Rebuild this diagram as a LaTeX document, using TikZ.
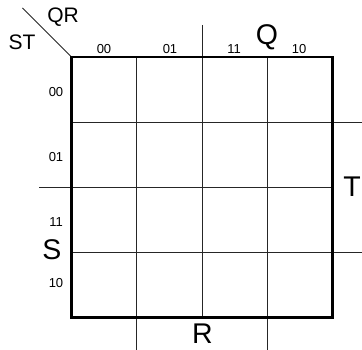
\documentclass[tikz,border=0pt]{standalone}
\usepackage{fontspec}
\setmainfont{Liberation Sans}
\begin{document}
\begin{tikzpicture}[x=1pt,y=-1pt,
  thin line/.style={line width=0.8pt,black!85},
  thick box/.style={line width=2.3pt,black},
  small lbl/.style={inner sep=0pt,font=\fontsize{13}{13}\selectfont},
  mid lbl/.style={inner sep=0pt,font=\fontsize{21}{21}\selectfont},
  big lbl/.style={inner sep=0pt,font=\fontsize{28.5}{28.5}\selectfont}]
\useasboundingbox (0,0) rectangle (362,350);
% grid coordinates
\coordinate (tl) at (71.5,57);
\coordinate (br) at (332.5,317.5);
\coordinate (v1t) at (136.75,57);  \coordinate (v1b) at (136.75,317.5);
\coordinate (v2t) at (202,57);     \coordinate (v2b) at (202,317.5);
\coordinate (v3t) at (267.25,57);  \coordinate (v3b) at (267.25,317.5);
\coordinate (h1l) at (71.5,122);   \coordinate (h1r) at (332.5,122);
\coordinate (h2l) at (71.5,187);   \coordinate (h2r) at (332.5,187);
\coordinate (h3l) at (71.5,252.5); \coordinate (h3r) at (332.5,252.5);
% extension ends
\coordinate (v2x) at (202,25);
\coordinate (v1x) at (136.75,350);
\coordinate (v3x) at (267.25,350);
\coordinate (h2x) at (39,187);
\coordinate (h1x) at (362,122);
\coordinate (h3x) at (362,252.5);
\coordinate (dg) at (22.5,8);
% inner lines and extensions
\draw[thin line] (v1t) -- (v1x);
\draw[thin line] (v2x) -- (v2b);
\draw[thin line] (v3t) -- (v3x);
\draw[thin line] (h1l) -- (h1x);
\draw[thin line] (h2x) -- (h2r);
\draw[thin line] (h3l) -- (h3x);
\draw[thin line] (dg) -- (tl);
% outer box
\draw[thick box] (tl) rectangle (br);
% corner labels
\node[mid lbl] (qr) at (63,17) {QR};
\node[mid lbl] (st) at (22,42) {ST};
% column labels
\node[small lbl] (c00) at (104,49.5) {00};
\node[small lbl] (c01) at (170,49.5) {01};
\node[small lbl] (c11) at (234,49.5) {11};
\node[small lbl] (c10) at (299,49.5) {10};
% row labels
\node[small lbl] (r00) at (56,92) {00};
\node[small lbl] (r01) at (56,157) {01};
\node[small lbl] (r11) at (56,222) {11};
\node[small lbl] (r10) at (56,283) {10};
% variable labels
\node[big lbl] (Q) at (267,37) {Q};
\node[big lbl] (S) at (52,250) {S};
\node[big lbl] (T) at (352,187) {T};
\node[big lbl] (R) at (202.5,333.5) {R};
\end{tikzpicture}
\end{document}
